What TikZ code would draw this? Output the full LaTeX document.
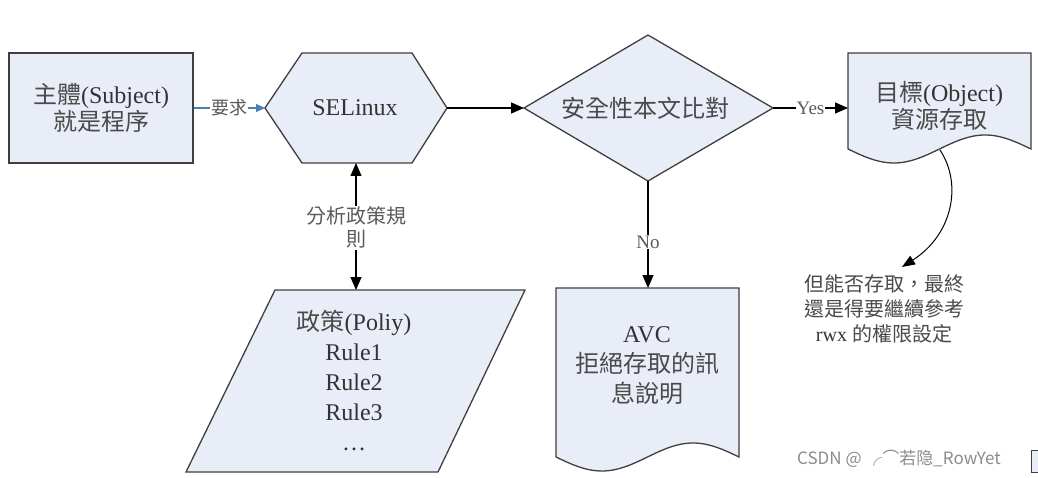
\documentclass[tikz,border=0pt]{standalone}
\usepackage{fontspec}
\setmainfont{Liberation Serif}
\newfontfamily\cjktc{Noto Sans CJK TC}
\newfontfamily\cjksc{Noto Sans CJK SC}
\usetikzlibrary{arrows.meta}
\definecolor{shapefill}{HTML}{E9EDF7}
\definecolor{edgecol}{HTML}{3F3F3F}
\definecolor{txt}{HTML}{333333}
\definecolor{zhcol}{HTML}{4A4A4A}
\definecolor{lblcol}{HTML}{5A5A5A}
\definecolor{reqcol}{HTML}{4A7EBB}
\newcommand\zh[1]{{\cjktc\color{zhcol}#1}}
\begin{document}
\begin{tikzpicture}[x=1pt,y=-1pt,
  shapebox/.style={draw=edgecol,fill=shapefill,line width=1.3pt,line join=miter},
  maintext/.style={text=txt,align=center,font=\fontsize{24}{25}\selectfont,inner sep=0pt},
  lbl/.style={text=lblcol,fill=white,align=center,font=\fontsize{19}{23}\selectfont,inner sep=1pt},
  flow/.style={draw=black,line width=1.2pt,-{Triangle[length=13pt,width=11pt]}},
  ]
\useasboundingbox[fill=white] (0,0) rectangle (1038,478);

% subject box
\node[shapebox,minimum width=184pt,minimum height=110pt,inner sep=0pt] (subj) at (101,108) {};
\node[maintext] (subjtext) at (101,108) {\zh{主體}(Subject)\\\zh{就是程序}};

% SELinux hexagon
\draw[shapebox] (265,108) -- (302,53) -- (412,53) -- (447,108) -- (412,163) -- (302,163) -- cycle;
\coordinate (hexW) at (265,108);
\coordinate (hexE) at (447,108);
\coordinate (hexS) at (356,163);
\node[maintext] (selinux) at (355,108) {SELinux};

% decision diamond
\draw[shapebox] (524,108) -- (648,35) -- (773,108) -- (648,181) -- cycle;
\coordinate (diaW) at (524,108);
\coordinate (diaE) at (773,108);
\coordinate (diaS) at (648,181);
\node[maintext] (check) at (645,108) {\zh{安全性本文比對}};

% object document
\draw[shapebox] (848,149) -- (848,53) -- (1031,53) -- (1031,149)
  sin (985,135) cos (939.5,149) sin (894,163) cos (848,149) -- cycle;
\coordinate (objW) at (848,108);
\coordinate (objS) at (940,150);
\node[maintext,font=\fontsize{24}{24}\selectfont] (objtext) at (939,106) {\zh{目標}(Object)\\\zh{資源存取}};

% policy parallelogram
\draw[shapebox] (275,290) -- (525,290) -- (438,472) -- (186,472) -- cycle;
\coordinate (polN) at (356,290);
\node[maintext,font=\fontsize{24}{30}\selectfont] (poltext) at (354,380) {\zh{政策}(Poliy)\\Rule1\\Rule2\\Rule3\\\dots};

% AVC document
\draw[shapebox] (556,457) -- (556,288) -- (739,288) -- (739,457)
  sin (693,443) cos (647.5,457) sin (602,471) cos (556,457) -- cycle;
\coordinate (avcN) at (648,288);
\node[maintext,font=\fontsize{24}{30}\selectfont] (avctext) at (647,366) {AVC\\\zh{拒絕存取的訊}\\\zh{息說明}};

% annotation
\coordinate (noteN) at (902,267);
\node[text=txt,align=center,font=\fontsize{20}{25}\selectfont,inner sep=0pt] (note) at (884,309)
  {\zh{但能否存取，最終}\\\zh{還是得要繼續參考}\\rwx \zh{的權限設定}};

% connectors
\draw[draw=reqcol,line width=1.2pt,-{Triangle[length=9pt,width=8pt]}] (subj.east) -- node[lbl,font=\fontsize{18}{18}\selectfont] (reqlbl) {{\cjktc 要求}} (hexW);
\draw[flow] (hexE) -- (diaW);
\draw[flow] (diaE) -- node[lbl] (yeslbl) {Yes} (objW);
\draw[flow] (diaS) -- node[lbl,pos=0.57] (nolbl) {No} (avcN);
\draw[flow,{Triangle[length=13pt,width=11pt]}-{Triangle[length=13pt,width=11pt]}] (hexS) -- node[lbl,font=\fontsize{20}{23}\selectfont,pos=0.51] (parselbl) {{\cjktc 分析政策規}\\{\cjktc 則}} (polN);
\draw[draw=black,line width=1pt,-{Triangle[length=13pt,width=10pt]}] (objS) .. controls (963,185) and (952,235) .. (noteN);

% watermark
\node[text=black!45,font=\cjksc\fontsize{17}{17}\selectfont,anchor=west,inner sep=0pt] (wm) at (797,459) {CSDN @ ╭⌒若隐\_RowYet};
\draw[draw=edgecol,fill=shapefill,line width=1pt] (1031,450) rectangle (1040,472);
\end{tikzpicture}
\end{document}
